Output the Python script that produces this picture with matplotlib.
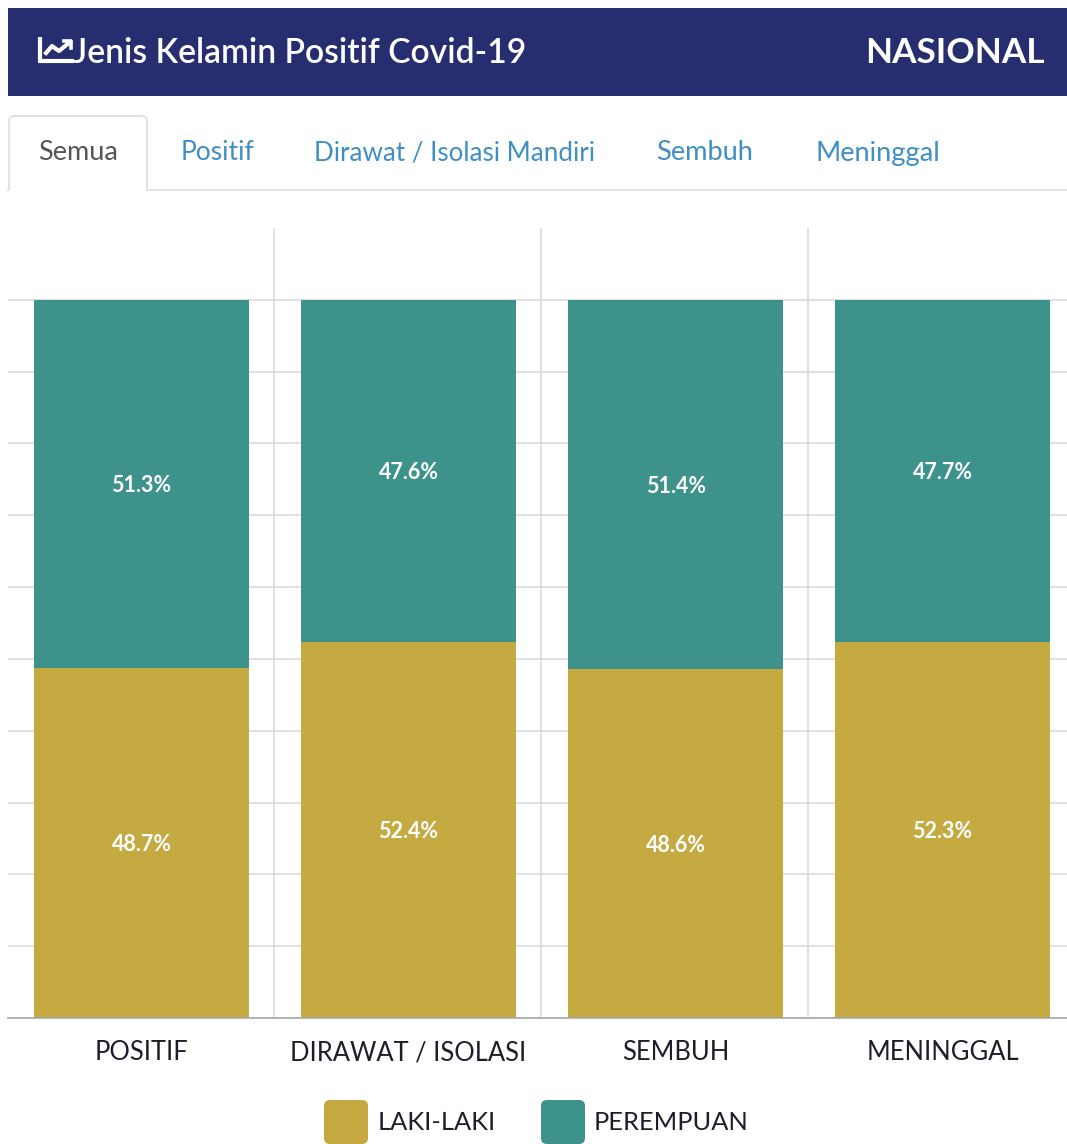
import matplotlib
matplotlib.use("Agg")
import matplotlib.pyplot as plt
from matplotlib.patches import FancyBboxPatch, Rectangle

categories = ["POSITIF", "DIRAWAT / ISOLASI", "SEMBUH", "MENINGGAL"]
laki = [48.7, 52.4, 48.6, 52.3]
perempuan = [51.3, 47.6, 51.4, 47.7]
tabs = ["Positif", "Dirawat / Isolasi Mandiri", "Sembuh", "Meninggal"]
tab_x = [181, 314, 656, 816]
tab_size = [19, 18.7, 19.6, 19.6]
y_ticks = [0, 10, 20, 30, 40, 50, 60, 70, 80, 90, 100]

GOLD = "#c5aa42"
TEAL = "#3d928b"
NAVY = "#262e70"
GRID = "#d8d8d8"

W, H = 1067, 1144
plt.rcParams["font.family"] = ["Lato", "DejaVu Sans"]

fig = plt.figure(figsize=(W / 100, H / 100), dpi=100, facecolor="white")

# chart area, in figure fractions worked out from the pixel layout
ax = fig.add_axes([8 / W, 1 - 1018 / H, (W - 8) / W, (1018 - 228) / H])
x = range(len(categories))
bar_w = 0.805
b1 = ax.bar(x, laki, bar_w, color=GOLD, zorder=3, label="LAKI-LAKI")
b2 = ax.bar(x, perempuan, bar_w, bottom=laki, color=TEAL, zorder=3, label="PEREMPUAN")
for bars, vals in [(b1, laki), (b2, perempuan)]:
    ax.bar_label(bars, labels=[f"{v}%" for v in vals], label_type="center", color="white",
                 fontsize=15.5, fontweight="bold", zorder=4, padding=-1.2)

ax.set_xlim(-0.5, 3.466)
ax.set_ylim(0, 110)
ax.set_yticks(y_ticks)
ax.set_xticks([0.4965, 1.4965, 2.4965], minor=True)
ax.set_xticks(list(x))
ax.set_xticklabels(categories, fontsize=18.4, color="#1e1e2a")
ax.set_yticklabels([])
ax.tick_params(axis="both", which="both", length=0)
ax.tick_params(axis="x", which="major", pad=16)
ax.grid(True, axis="y", color=GRID, lw=1.1, zorder=1)
ax.grid(True, axis="x", which="minor", color=GRID, lw=1.1, zorder=1)
ax.grid(False, axis="x", which="major")
for s in ["top", "left", "right"]:
    ax.spines[s].set_visible(False)
ax.spines["bottom"].set_color("#a8a8a8")
ax.spines["bottom"].set_linewidth(1.2)
ax.spines["bottom"].set_zorder(5)

# page furniture drawn on a pixel overlay
ov = fig.add_axes([0, 0, 1, 1], zorder=10)
ov.set_xlim(0, W)
ov.set_ylim(H, 0)
ov.axis("off")
ov.patch.set_alpha(0)

ov.add_patch(Rectangle((8, 8), W - 8, 88, color=NAVY, lw=0))
ov.text(73, 53, "Jenis Kelamin Positif Covid-19", color="white", fontsize=24.2,
        fontweight="semibold", va="center", ha="left")
ov.text(1045, 53, "NASIONAL", color="white", fontsize=25.3, fontweight="bold",
        va="center", ha="right")

# chart-line icon in the header
ov.plot([39.5, 39.5, 74], [37, 61, 61], color="white", lw=3, solid_capstyle="butt",
        solid_joinstyle="miter")
ov.plot([46, 52, 59, 70], [53, 46, 51, 42], color="white", lw=3)
ov.plot([64, 71, 71], [41, 41, 48], color="white", lw=2.6)

# tab strip
ov.plot([8, W], [190, 190], color="#e2e2e2", lw=1.4, zorder=1)
tab = FancyBboxPatch((9, 116), 138, 90, boxstyle="round,pad=0,rounding_size=5",
                     fc="white", ec="#e2e2e2", lw=1.4, zorder=2)
ov.add_patch(tab)
ov.add_patch(Rectangle((7, 190.8), 142, 18, fc="white", ec="none", zorder=3))
ov.text(78, 153, "Semua", color="#555555", fontsize=19.5, va="center", ha="center", zorder=4)
for name, tx, size in zip(tabs, tab_x, tab_size):
    ov.text(tx, 153, name, color="#3f8fc4", fontsize=size, va="center", ha="left")

# legend
ov.add_patch(FancyBboxPatch((324, 1100), 44, 44, boxstyle="round,pad=0,rounding_size=6",
                            fc=GOLD, ec="none"))
ov.text(378, 1123, "LAKI-LAKI", color="#1e1e2a", fontsize=18.3, va="center", ha="left")
ov.add_patch(FancyBboxPatch((541, 1100), 44, 44, boxstyle="round,pad=0,rounding_size=6",
                            fc=TEAL, ec="none"))
ov.text(594, 1123, "PEREMPUAN", color="#1e1e2a", fontsize=18.3, va="center", ha="left")

fig.savefig("out.png", dpi=100)
